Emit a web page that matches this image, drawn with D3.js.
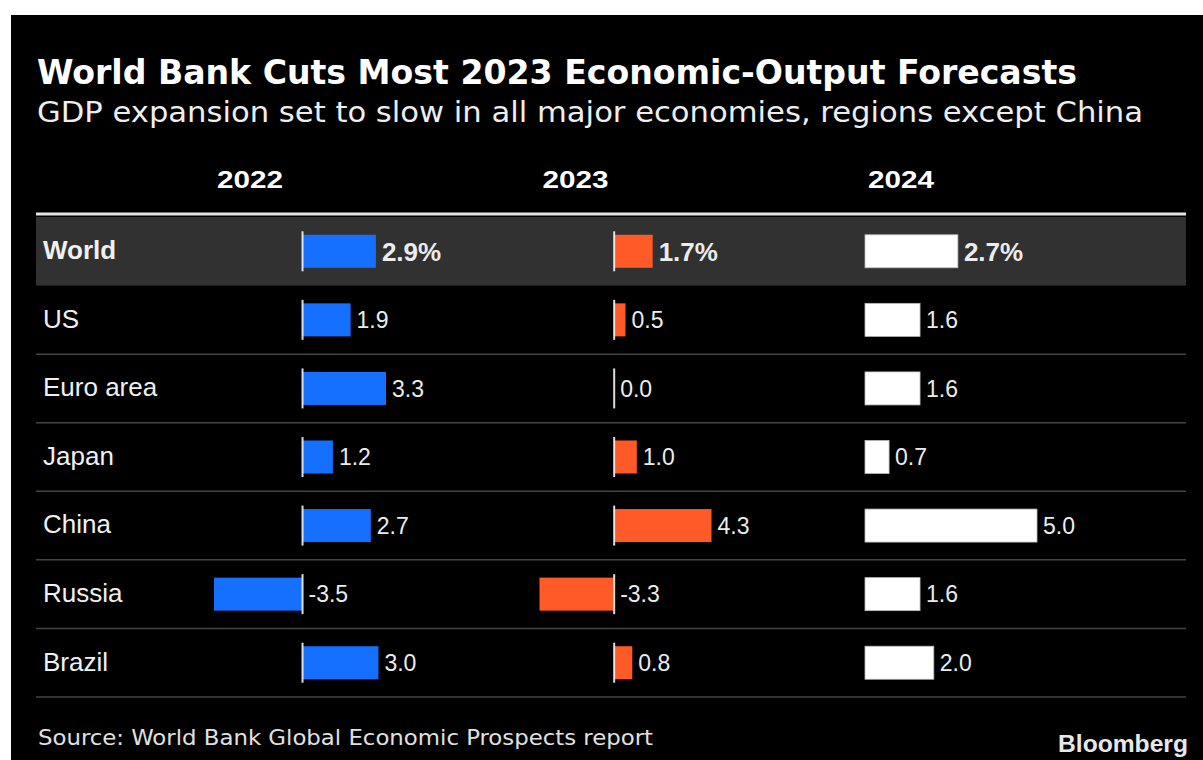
<!DOCTYPE html>
<html>
<head>
<meta charset="utf-8">
<script src="https://cdn.jsdelivr.net/npm/d3@7"></script>
<style>
  html, body { margin: 0; padding: 0; background: #fff; }
  svg { display: block; }
</style>
</head>
<body>
<svg id="chart" width="1203" height="760"></svg>
<script>
// GDP growth, percent, by economy and year
const regions = ["World", "US", "Euro area", "Japan", "China", "Russia", "Brazil"];
const years = ["2022", "2023", "2024"];
const gdp2022 = [2.9, 1.9, 3.3, 1.2, 2.7, -3.5, 3.0];
const gdp2023 = [1.7, 0.5, 0.0, 1.0, 4.3, -3.3, 0.8];
const gdp2024 = [2.7, 1.6, 1.6, 0.7, 5.0, 1.6, 2.0];
const seriesValues = [gdp2022, gdp2023, gdp2024];
const seriesColors = ["#1570ff", "#ff5a28", "#ffffff"];

const titleText = "World Bank Cuts Most 2023 Economic-Output Forecasts";
const subtitleText = "GDP expansion set to slow in all major economies, regions except China";
const sourceText = "Source: World Bank Global Economic Prospects report";

const svg = d3.select("#chart");
const W = 1203, H = 760;

const condensed = "'DejaVu Sans Condensed', 'DejaVu Sans', sans-serif";
const helv = "'Liberation Sans', Arial, Helvetica, sans-serif";

// hyphen-minus for negatives, one decimal place
const fmt = d3.formatLocale({ decimal: ".", thousands: ",", grouping: [3], currency: ["", ""], minus: "-" }).format(".1f");

// dark panel
svg.append("rect").attr("x", 11).attr("y", 15).attr("width", W - 11).attr("height", H - 15).attr("fill", "#000");

// heading
svg.append("text").attr("x", 37).attr("y", 84)
  .attr("font-family", condensed).attr("font-weight", "bold").attr("font-size", 34)
  .attr("font-stretch", "condensed")
  .attr("fill", "#fff").attr("textLength", 1040).attr("lengthAdjust", "spacingAndGlyphs")
  .text(titleText);
svg.append("text").attr("x", 37).attr("y", 122)
  .attr("font-family", condensed).attr("font-size", 28).attr("font-stretch", "condensed")
  .attr("fill", "#eeeeee").attr("textLength", 1106).attr("lengthAdjust", "spacingAndGlyphs")
  .text(subtitleText);

// table geometry
const left = 36, right = 1186;
const rowTop = 217, rowBottom = 697;
const y = d3.scaleBand().domain(regions).range([rowTop, rowBottom]).paddingInner(0).paddingOuter(0);
const barH = 33;

const colWidth = 172;
const colX = d3.scalePoint().domain(years).range([214, 865]);

// highlighted first row
svg.append("rect").attr("x", left).attr("y", y(regions[0])).attr("width", right - left)
  .attr("height", y.bandwidth()).attr("fill", "#313131");

// header rule
svg.append("rect").attr("x", left).attr("y", 212.5).attr("width", right - left).attr("height", 3)
  .attr("fill", "#e6e6e6");

// row separators
svg.append("g").selectAll("line").data(regions.slice(1)).join("line")
  .attr("x1", left).attr("x2", right)
  .attr("y1", d => y(d) + y.bandwidth()).attr("y2", d => y(d) + y.bandwidth())
  .attr("stroke", "#444").attr("stroke-width", 1.5);

// column headers
svg.append("g").selectAll("text").data(years).join("text")
  .attr("x", d => colX(d) + 3).attr("y", 188)
  .attr("font-family", helv).attr("font-weight", "bold").attr("font-size", 24)
  .attr("fill", "#fff").attr("textLength", 66).attr("lengthAdjust", "spacingAndGlyphs")
  .text(d => d);

// row labels
svg.append("g").selectAll("text").data(regions).join("text")
  .attr("x", 43).attr("y", d => y(d) + y.bandwidth() / 2)
  .attr("dy", "0.3em")
  .attr("font-family", helv).attr("font-size", 26)
  .attr("font-weight", (d, i) => i === 0 ? "bold" : "normal")
  .attr("fill", "#f0f0f0")
  .text(d => d);

// bar columns
years.forEach((yr, ci) => {
  const vals = seriesValues[ci];
  const x0 = colX(yr);
  const x = d3.scaleLinear()
    .domain([Math.min(0, d3.min(vals)), d3.max(vals)])
    .range([x0, x0 + colWidth]);
  const g = svg.append("g");
  const rows = regions.map((r, i) => ({ region: r, value: vals[i], i }));

  g.selectAll("rect.bar").data(rows).join("rect")
    .attr("class", "bar")
    .attr("x", d => x(Math.min(0, d.value)))
    .attr("width", d => Math.abs(x(d.value) - x(0)))
    .attr("y", d => y(d.region) + (y.bandwidth() - barH) / 2)
    .attr("height", barH)
    .attr("fill", seriesColors[ci])
    .attr("stroke", ci === 2 ? "#bbb" : "none").attr("stroke-width", 0.8);

  // zero line, shown where the column has negative values
  if (d3.min(vals) < 0) {
    g.selectAll("line.zero").data(rows).join("line")
      .attr("class", "zero")
      .attr("x1", x(0)).attr("x2", x(0))
      .attr("y1", d => y(d.region) + y.bandwidth() / 2 - 20)
      .attr("y2", d => y(d.region) + y.bandwidth() / 2 + 20)
      .attr("stroke", "#f4f4f4").attr("stroke-opacity", 0.9).attr("stroke-width", 2);
  }

  g.selectAll("text").data(rows).join("text")
    .attr("x", d => Math.max(x(d.value), x(0)) + 6)
    .attr("y", d => y(d.region) + y.bandwidth() / 2)
    .attr("dy", "0.36em")
    .attr("font-family", helv)
    .attr("font-size", d => d.i === 0 ? 26 : 23)
    .attr("font-weight", d => d.i === 0 ? "bold" : "normal")
    .attr("fill", "#ececec")
    .text(d => fmt(d.value) + (d.i === 0 ? "%" : ""));
});

// footer
svg.append("text").attr("x", 38).attr("y", 745)
  .attr("font-family", condensed).attr("font-size", 22).attr("font-stretch", "condensed")
  .attr("fill", "#e0e0e0").attr("textLength", 615).attr("lengthAdjust", "spacingAndGlyphs")
  .text(sourceText);
svg.append("text").attr("x", 1188).attr("y", 752).attr("text-anchor", "end")
  .attr("font-family", helv).attr("font-weight", "bold").attr("font-size", 24)
  .attr("fill", "#e8e8e8").attr("textLength", 130).attr("lengthAdjust", "spacingAndGlyphs")
  .text("Bloomberg");
</script>
</body>
</html>
